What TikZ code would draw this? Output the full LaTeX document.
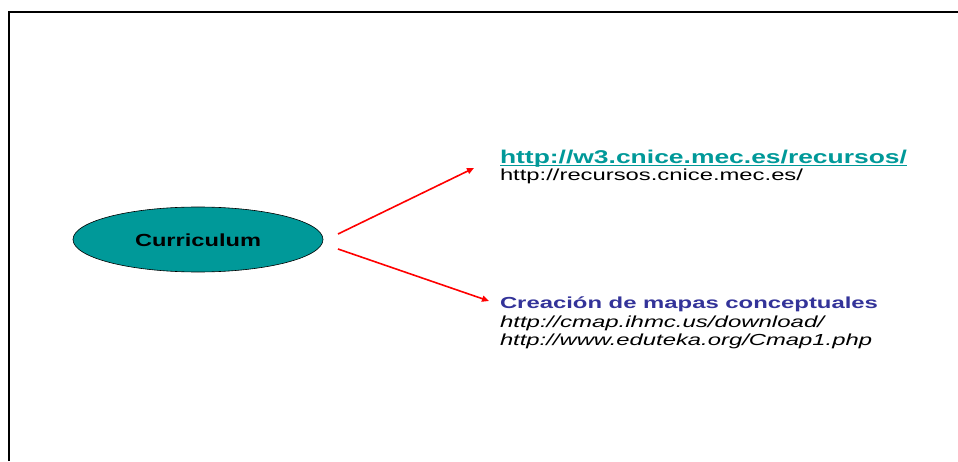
\documentclass[tikz,border=0pt]{standalone}
\usepackage{fontspec}
\setmainfont{Liberation Sans}
\usepackage{graphicx}
\usetikzlibrary{arrows.meta,shapes.geometric}
\definecolor{tealc}{HTML}{009999}
\definecolor{bluec}{HTML}{333399}
\definecolor{redc}{HTML}{FF0000}
\tikzset{
  txt/.style={anchor=base west, inner sep=0pt, outer sep=0pt},
  arr/.style={draw=redc, line width=1.6pt, -{Triangle[length=7pt,width=6pt]}},
}
\newcommand\ulteal[1]{\setbox0\hbox{#1}\rlap{\color{tealc}\rule[-2.4pt]{\wd0}{1.3pt}}\box0}
\begin{document}
\begin{tikzpicture}[x=1pt,y=1pt]
\useasboundingbox (0,0) rectangle (958,461);
\fill[white] (0,0) rectangle (958,461);
% frame
\draw[line width=2pt] (9,0) -- (9,449) -- (958,449);
% ellipse
\node[ellipse, draw=black, line width=0.6pt, fill=tealc, minimum width=250pt, minimum height=65pt, inner sep=0pt] (cur) at (198,221.5) {};
\node[txt] (curt) at (135,214.3) {\resizebox{126pt}{\height}{\fontsize{17.5}{20}\selectfont\bfseries Curriculum}};
% texts
\node[txt] (l1) at (500,297) {\resizebox{407pt}{\height}{\fontsize{18.5}{20}\selectfont\bfseries\color{tealc}\ulteal{http://w3.cnice.mec.es/recursos/}}};
\node[txt] (l2) at (500,280.3) {\resizebox{303pt}{\height}{\fontsize{16}{18}\selectfont http://recursos.cnice.mec.es/}};
\node[txt] (l3) at (500,152.7) {\resizebox{378pt}{\height}{\fontsize{16}{18}\selectfont\bfseries\color{bluec}Creación de mapas conceptuales}};
\node[txt] (l4) at (500,133.3) {\resizebox{324pt}{\height}{\fontsize{16}{18}\selectfont\itshape http://cmap.ihmc.us/download/}};
\node[txt] (l5) at (500,116) {\resizebox{372pt}{\height}{\fontsize{16}{18}\selectfont\itshape http://www.eduteka.org/Cmap1.php}};
% arrows
\coordinate (a1s) at (338,227);
\coordinate (a1e) at (474,293);
\coordinate (a2s) at (338,212);
\coordinate (a2e) at (489,160);
\draw[arr] (a1s) -- (a1e);
\draw[arr] (a2s) -- (a2e);
\end{tikzpicture}
\end{document}
